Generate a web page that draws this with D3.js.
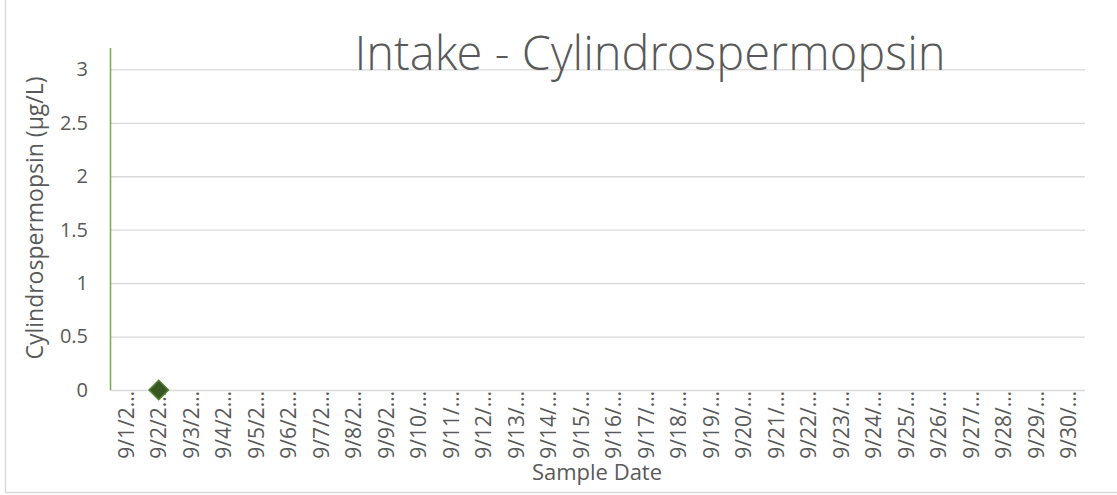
<!DOCTYPE html>
<html>
<head>
<meta charset="utf-8">
<script src="https://cdn.jsdelivr.net/npm/d3@7"></script>
<style>
  body { margin: 0; background: #fff; }
  svg { display: block; font-family: "Open Sans", "Noto Sans", sans-serif; }
</style>
</head>
<body>
<div id="chart"></div>
<script>
// Tick labels as Excel shows them (truncated dates), one per day of September
const dateLabels = [
  '9/1/2…', '9/2/2…', '9/3/2…', '9/4/2…', '9/5/2…', '9/6/2…', '9/7/2…', '9/8/2…', '9/9/2…',
  '9/10/…', '9/11/…', '9/12/…', '9/13/…', '9/14/…', '9/15/…', '9/16/…', '9/17/…', '9/18/…',
  '9/19/…', '9/20/…', '9/21/…', '9/22/…', '9/23/…', '9/24/…', '9/25/…', '9/26/…', '9/27/…',
  '9/28/…', '9/29/…', '9/30/…'
];
// Only one sample was taken
const sampleDates = ['9/2/2…'];
const sampleValues = [0];
const yTicks = [0, 0.5, 1, 1.5, 2, 2.5, 3];

const width = 1117;
const height = 495;
const margin = { top: 48, right: 32, bottom: 105, left: 110 };
const plotW = width - margin.left - margin.right;
const plotH = height - margin.top - margin.bottom;

const grey = '#595959';
const fontFamily = '"Open Sans", "Noto Sans", sans-serif';

const svg = d3.select('#chart').append('svg').attr('width', width).attr('height', height);

// outer chart border
svg.append('rect')
  .attr('x', 5.5).attr('y', -2).attr('width', width + 5).attr('height', 494.5)
  .attr('fill', 'none').attr('stroke', '#d9d9d9').attr('stroke-width', 1.5);

const g = svg.append('g').attr('transform', `translate(${margin.left},${margin.top})`);

const x = d3.scaleBand().domain(dateLabels).range([0, plotW]);
const y = d3.scaleLinear().domain([0, 3.2]).range([plotH, 0]);

// gridlines
g.append('g')
  .call(d3.axisLeft(y).tickValues(yTicks).tickSize(-plotW).tickFormat(''))
  .call((a) => a.select('.domain').remove())
  .selectAll('line')
  .attr('stroke', '#d9d9d9')
  .attr('stroke-width', 1.3);

// y tick labels
g.append('g')
  .call(d3.axisLeft(y).tickValues(yTicks).tickSize(0).tickPadding(22).tickFormat(d3.format('')))
  .attr('font-family', fontFamily)
  .attr('font-size', 20)
  .call((a) => a.select('.domain').remove())
  .selectAll('text')
  .attr('fill', grey);

// x axis labels, rotated
g.append('g')
  .attr('transform', `translate(0,${plotH})`)
  .call(d3.axisBottom(x).tickSize(0).tickPadding(0))
  .attr('font-family', fontFamily)
  .attr('font-size', 21)
  .call((a) => a.select('.domain').remove())
  .selectAll('text')
  .attr('fill', grey)
  .attr('transform', 'rotate(-90)')
  .attr('text-anchor', 'end')
  .attr('dy', '0.35em')
  .attr('x', -1)
  .attr('y', 0);

// green vertical axis line
g.append('line')
  .attr('x1', 0.5).attr('x2', 0.5).attr('y1', 0).attr('y2', plotH)
  .attr('stroke', '#70ad47').attr('stroke-width', 1.5);

// data point
g.selectAll('path.marker')
  .data(sampleDates.map((d, i) => ({ date: d, value: sampleValues[i] })))
  .join('path')
  .attr('class', 'marker')
  .attr('d', d3.symbol().type(d3.symbolDiamond2).size(240))
  .attr('transform', (d) => `translate(${x(d.date) + x.bandwidth() / 2},${y(d.value)})`)
  .attr('fill', '#385723')
  .attr('stroke', '#548235')
  .attr('stroke-width', 1.5);

// titles
svg.append('text')
  .attr('x', 650).attr('y', 70)
  .attr('text-anchor', 'middle')
  .attr('fill', grey)
  .style('font-family', '"Open Sans Light", "Open Sans", sans-serif')
  .style('font-size', '47px')
  .style('font-weight', 300)
  .text('Intake - Cylindrospermopsin');

svg.append('text')
  .attr('x', 597).attr('y', 480)
  .attr('text-anchor', 'middle')
  .attr('fill', grey)
  .style('font-size', '22px')
  .text('Sample Date');

svg.append('text')
  .attr('transform', 'translate(43,218) rotate(-90)')
  .attr('text-anchor', 'middle')
  .attr('fill', grey)
  .style('font-size', '23px')
  .text('Cylindrospermopsin (µg/L)');
</script>
</body>
</html>
